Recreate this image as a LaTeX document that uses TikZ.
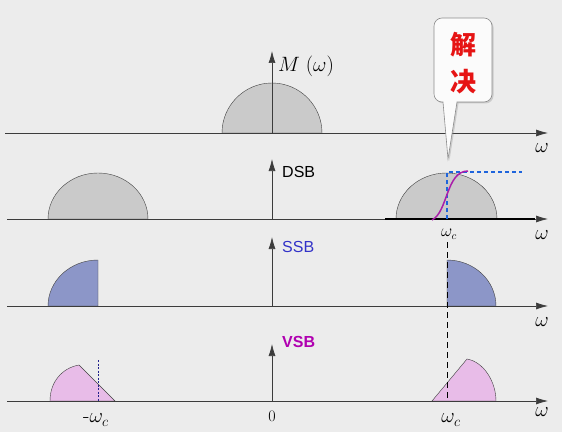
\documentclass[tikz,border=0pt]{standalone}
\usepackage{fontspec}
\setsansfont{Liberation Sans}
\newfontfamily\cjkfont{Noto Sans CJK SC}
\usetikzlibrary{arrows.meta,shadows}
\definecolor{bgc}{RGB}{236,236,236}
\definecolor{axc}{RGB}{60,60,60}
\definecolor{grayfill}{RGB}{202,202,202}
\definecolor{bluefill}{RGB}{140,150,200}
\definecolor{pinkfill}{RGB}{232,188,232}
\definecolor{dsbblue}{RGB}{30,100,220}
\definecolor{curvepurple}{RGB}{170,30,170}
\definecolor{ssbblue}{RGB}{50,50,200}
\definecolor{vsbmag}{RGB}{176,0,176}
\definecolor{calloutred}{RGB}{230,20,20}
\tikzset{
  axis/.style={draw=axc, line width=0.7pt, -{Latex[length=12pt,width=7pt]}},
  band/.style={draw=black!75, line width=0.4pt},
  wlabel/.style={font=\fontsize{21}{21}\selectfont, inner sep=0pt},
  wclabel/.style={font=\fontsize{16}{16}\selectfont, inner sep=0pt},
  modlabel/.style={font=\sffamily\fontsize{16}{16}\selectfont, anchor=west, inner sep=0pt},
}
\begin{document}
\begin{tikzpicture}[x=1pt,y=1pt]
\fill[bgc] (0,0) rectangle (562,432);
\useasboundingbox (0,0) rectangle (562,432);
% ---- coordinates
\coordinate (a1s) at (5,299);  \coordinate (a1e) at (548,299);
\coordinate (a2s) at (7,213);  \coordinate (a2e) at (548,213);
\coordinate (a3s) at (7,126);  \coordinate (a3e) at (548,126);
\coordinate (a4s) at (7,31);   \coordinate (a4e) at (548,31);
\coordinate (v1s) at (272,299); \coordinate (v1e) at (272,381);
\coordinate (v2s) at (272,213); \coordinate (v2e) at (272,273);
\coordinate (v3s) at (272,126); \coordinate (v3e) at (272,195);
\coordinate (v4s) at (272,31);  \coordinate (v4e) at (272,88);
% ---- spectra
\filldraw[band, fill=grayfill] (222,299) arc[start angle=180,end angle=0,x radius=50pt,y radius=50pt] -- cycle;
\filldraw[band, fill=grayfill] (48,213) arc[start angle=180,end angle=0,x radius=50pt,y radius=46pt] -- cycle;
\filldraw[band, fill=grayfill] (396,213) arc[start angle=180,end angle=0,x radius=50.5pt,y radius=46pt] -- cycle;
\filldraw[band, fill=bluefill] (48,126) arc[start angle=180,end angle=90,x radius=50pt,y radius=46pt] -- (98,126) -- cycle;
\filldraw[band, fill=bluefill] (447,126) -- (447,172) arc[start angle=90,end angle=0,x radius=49pt,y radius=46pt] -- cycle;
\filldraw[band, fill=pinkfill] (50,31) .. controls (50,50) and (62,64) .. (79,67) -- (115,31) -- cycle;
\filldraw[band, fill=pinkfill] (432,31) -- (467,73) .. controls (484,70) and (496,50) .. (496,31) -- cycle;
% ---- axes
\draw[axis] (a1s) -- (a1e);
\draw[axis] (a2s) -- (a2e);
\draw[black, line width=1.4pt] (385,213) -- (535,213);
\draw[axis] (a3s) -- (a3e);
\draw[axis] (a4s) -- (a4e);
\draw[axis] (v1s) -- (v1e);
\draw[axis] (v2s) -- (v2e);
\draw[axis] (v3s) -- (v3e);
\draw[axis] (v4s) -- (v4e);
% ---- DSB filter
\coordinate (fb) at (447,213); \coordinate (fc) at (447,260); \coordinate (fe) at (522,260);
\draw[dsbblue, line width=1.6pt, dash pattern=on 4pt off 3pt] (fb) -- (fc) -- (fe);
\coordinate (cs) at (432,212); \coordinate (ce) at (468,261);
\draw[curvepurple, line width=1.5pt] (cs) .. controls (448,220) and (446,261) .. (ce);
% ---- dashed guides
\coordinate (dgt) at (447,190); \coordinate (dgb) at (447,31);
\draw[black, line width=0.7pt, dash pattern=on 6pt off 4pt] (dgt) -- (dgb);
\coordinate (dot1) at (98.6,72); \coordinate (dot2) at (98.6,31);
\draw[ssbblue!70!black, line width=0.8pt, dash pattern=on 2pt off 1.5pt] (dot1) -- (dot2);
% ---- labels
\node[anchor=west, inner sep=0pt, font=\fontsize{20}{20}\selectfont] (mlab) at (278,366) {$M\;(\omega)$};
\node[modlabel, text=black] (dsb) at (282,260) {DSB};
\node[modlabel, text=ssbblue] (ssb) at (282,185) {SSB};
\node[modlabel, text=vsbmag, font=\sffamily\bfseries\fontsize{16}{16}\selectfont] (vsb) at (282,90) {VSB};
\node[wlabel] (w1) at (542,284) {$\omega$};
\node[wlabel] (w2) at (542,197) {$\omega$};
\node[wlabel] (w3) at (542,110) {$\omega$};
\node[wlabel] (w4) at (542,20) {$\omega$};
\node[wclabel] (wc2) at (449,198) {$\omega_c$};
\node[wlabel] (wc4) at (451,12) {$\omega_c$};
\node[wlabel] (mwc4) at (96,12) {\mbox{-}$\omega_c$};
\node[inner sep=0pt, font=\fontsize{16}{16}\selectfont] (zero) at (272,16) {0};
% ---- callout
\filldraw[draw=black!45, fill=white!97!gray, line width=0.6pt, drop shadow={shadow xshift=1.5pt,shadow yshift=-1.5pt,opacity=0.3}]
  (443,330) [rounded corners=8pt] -- (434,330) -- (434,414) -- (492,414) -- (492,330) [sharp corners] -- (457,330) -- (448,273) -- cycle;
\node[text=calloutred, inner sep=0pt, font=\cjkfont\bfseries\fontsize{26}{26}\selectfont] (jie) at (463,387) {解};
\node[text=calloutred, inner sep=0pt, font=\cjkfont\bfseries\fontsize{26}{26}\selectfont] (jue) at (463,350) {决};
\end{tikzpicture}
\end{document}
